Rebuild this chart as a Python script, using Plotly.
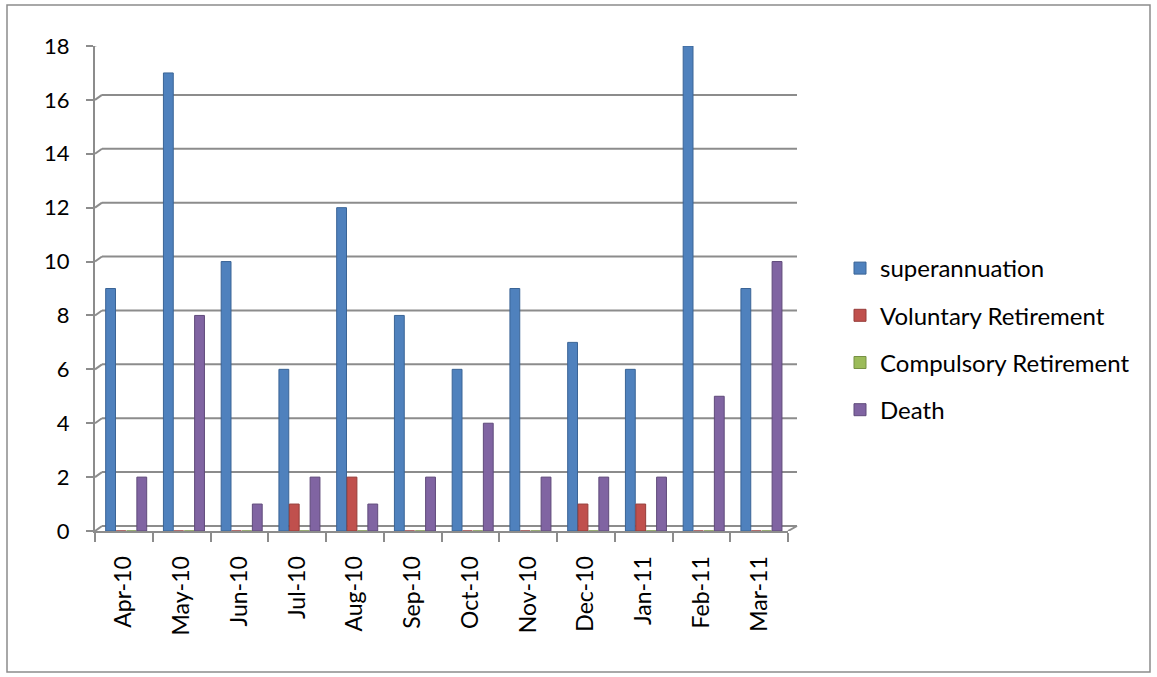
import plotly.graph_objects as go

months = ["Apr-10", "May-10", "Jun-10", "Jul-10", "Aug-10", "Sep-10",
          "Oct-10", "Nov-10", "Dec-10", "Jan-11", "Feb-11", "Mar-11"]
superannuation = [9, 17, 10, 6, 12, 8, 6, 9, 7, 6, 18, 9]
voluntary = [0, 0, 0, 1, 2, 0, 0, 0, 1, 1, 0, 0]
compulsory = [0, 0, 0, 0, 0, 0, 0, 0, 0, 0, 0, 0]
death = [2, 8, 1, 2, 1, 2, 4, 2, 2, 2, 5, 10]
y_ticks = [0, 2, 4, 6, 8, 10, 12, 14, 16, 18]

series = [
    ("superannuation", superannuation, "#4F81BD", "#3A6496"),
    ("Voluntary Retirement", voluntary, "#C0504D", "#963D3A"),
    ("Compulsory Retirement", compulsory, "#9BBB59", "#779144"),
    ("Death", death, "#8064A2", "#5F4A7A"),
]

FONT = "Lato, 'Open Sans', sans-serif"
GRID = "#8C8C8C"

W, H = 1157, 677
# plot area in page pixels
PL, PR, PT, PB = 95, 788, 46, 531
L, R, T, B = PL, W - PR, PT, H - PB
pw, ph = W - L - R, H - T - B

def px_x(px):
    return (px - L) / pw

def px_y(py):
    return (H - B - py) / ph

BAR_W = 0.17
BAR_STEP = 0.18
BAR_START = -0.315

fig = go.Figure()
for i, (name, vals, col, edge) in enumerate(series):
    fig.add_trace(go.Bar(
        x=months, y=vals, name=name, legendgroup=f"g{i}",
        width=BAR_W, offset=BAR_START + i * BAR_STEP,
        marker=dict(color=col, line=dict(color=edge, width=1)),
    ))

# pseudo-3D back wall: gridlines shifted up/right, with diagonal connectors
DX, DY = 7, 5
shapes = []
for v in y_ticks:
    shapes.append(dict(
        type="line", xref="paper", yref="y", ysizemode="pixel", yanchor=v,
        x0=DX / pw, x1=1 + (DX + 2) / pw, y0=DY, y1=DY,
        line=dict(color=GRID, width=2), layer="below",
    ))
    shapes.append(dict(
        type="line", xref="paper", yref="y", ysizemode="pixel", yanchor=v,
        x0=0, x1=DX / pw, y0=0, y1=DY,
        line=dict(color=GRID, width=2), layer="below",
    ))
# right edge of the floor
shapes.append(dict(
    type="line", xref="paper", yref="y", ysizemode="pixel", yanchor=0,
    x0=1, x1=1 + (DX + 2) / pw, y0=0, y1=DY,
    line=dict(color=GRID, width=2), layer="below",
))
# outer chart border
shapes.append(dict(
    type="rect", xref="paper", yref="paper",
    x0=px_x(7), x1=px_x(1150), y0=px_y(672), y1=px_y(5),
    line=dict(color=GRID, width=1.5), layer="below",
))

fig.update_layout(
    width=W, height=H,
    margin=dict(l=L, r=R, t=T, b=B),
    paper_bgcolor="white", plot_bgcolor="white",
    barmode="overlay",
    font=dict(family=FONT, size=22, color="#000000"),
    showlegend=True,
    legend=dict(
        x=px_x(840), y=px_y(246), xanchor="left", yanchor="top",
        font=dict(family=FONT, size=24, color="#000000"),
        tracegroupgap=13, traceorder="grouped",
        bgcolor="rgba(0,0,0,0)",
    ),
    xaxis=dict(
        type="category", tickangle=-90, showgrid=False,
        showline=True, linecolor=GRID, linewidth=2,
        ticks="outside", tickson="boundaries", ticklen=9, tickwidth=2,
        tickcolor=GRID, ticklabelstandoff=14,
        tickfont=dict(family=FONT, size=23, color="#000000"),
    ),
    yaxis=dict(
        range=[0, 18], tickvals=y_ticks, showgrid=False,
        showline=True, linecolor=GRID, linewidth=2,
        ticks="outside", ticklen=7, tickwidth=2, tickcolor=GRID,
        ticklabelstandoff=12,
        tickfont=dict(family=FONT, size=22, color="#000000"),
        zeroline=False,
    ),
    shapes=shapes,
)

fig.write_html("out.html", config={"displayModeBar": False},
               post_script="document.body.style.margin='0';")
